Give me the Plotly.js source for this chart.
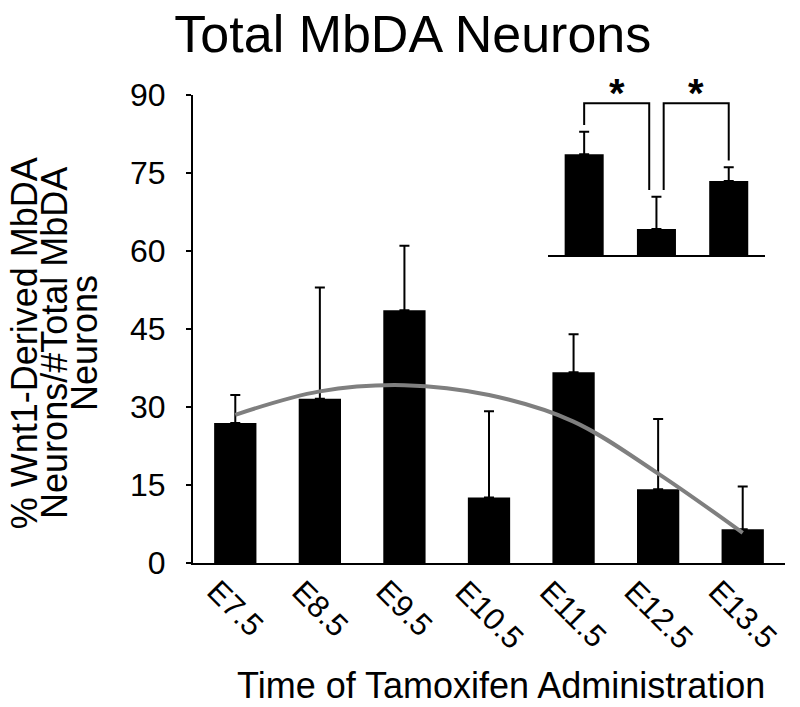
<!DOCTYPE html>
<html>
<head>
<meta charset="utf-8">
<script src="https://cdn.plot.ly/plotly-3.0.1.min.js"></script>
<style>html,body{margin:0;padding:0;background:#fff;}#chart{width:800px;height:707px;}</style>
</head>
<body>
<div id="chart"></div>
<script>
// Main chart data
const categories = ['E7.5', 'E8.5', 'E9.5', 'E10.5', 'E11.5', 'E12.5', 'E13.5'];
const percentValues = [26.9, 31.6, 48.6, 12.6, 36.7, 14.2, 6.5];
const percentErrors = [5.4, 21.4, 12.4, 16.6, 7.3, 13.5, 8.2];
const trendValues = [28.5, 33.0, 34.2, 32.3, 27.2, 17.2, 5.8];
const yTicks = [0, 15, 30, 45, 60, 75, 90];

// Inset data
const insetCategories = ['A', 'B', 'C'];
const insetValues = [44.1, 11.4, 32.4];
const insetErrors = [9.8, 14.1, 6.0];
const sigPairs = [[0, 1], [1, 2]];

const FONT = 'Liberation Sans, Arial, sans-serif';
const zeros = percentValues.map(() => 0);

const traces = [
  {
    type: 'bar', x: categories, y: percentValues, width: 0.5,
    marker: {color: '#000000', line: {width: 0}},
    error_y: {type: 'data', symmetric: false, array: percentErrors, arrayminus: zeros,
              color: '#000000', thickness: 2, width: 5},
    hoverinfo: 'skip', showlegend: false
  },
  {
    type: 'scatter', mode: 'lines', x: categories, y: trendValues,
    line: {color: '#7f7f7f', width: 4, shape: 'spline', smoothing: 1},
    showlegend: false, hoverinfo: 'skip'
  },
  {
    type: 'bar', x: insetCategories, y: insetValues, xaxis: 'x2', yaxis: 'y2', width: 0.54,
    marker: {color: '#000000', line: {width: 0}},
    error_y: {type: 'data', symmetric: false, array: insetErrors, arrayminus: [0, 0, 0],
              color: '#000000', thickness: 2, width: 5},
    showlegend: false, hoverinfo: 'skip'
  }
];

// significance brackets built from inset data
const bracketTop = 66.4;
const gap = 3;
const legOffset = 0.1;
const shapes = [];
const annotations = [];
sigPairs.forEach(([a, b], i) => {
  const xa = i === 0 ? a : a + legOffset;
  const xb = i === 0 ? b - legOffset : b;
  const ya = insetValues[a] + insetErrors[a] + gap;
  const yb = insetValues[b] + insetErrors[b] + gap;
  shapes.push({
    type: 'path', xref: 'x2', yref: 'y2',
    path: `M ${xa},${ya} L ${xa},${bracketTop} L ${xb},${bracketTop} L ${xb},${yb}`,
    line: {color: '#000000', width: 2}
  });
  annotations.push({
    xref: 'x2', yref: 'y2', x: (xa + xb) / 2, y: bracketTop, yanchor: 'bottom',
    text: '<b>*</b>', showarrow: false, font: {family: FONT, size: 40, color: '#000'}, yshift: -14
  });
});

// x tick labels, centred under each category and rotated 45 degrees
categories.forEach((c) => {
  annotations.push({
    xref: 'x', yref: 'paper', x: c, y: 0, xanchor: 'center', yanchor: 'top', yshift: -8,
    text: c, textangle: 45, showarrow: false, font: {family: FONT, size: 31, color: '#000'}
  });
});

// x title
annotations.push({
  xref: 'paper', yref: 'paper', x: 0.521, y: -0.261, xanchor: 'center', yanchor: 'middle',
  text: 'Time of Tamoxifen Administration', showarrow: false,
  font: {family: FONT, size: 36, color: '#000'}
});

// y title lines
const yTitleLines = ['% Wnt1-Derived MbDA', 'Neurons/#Total MbDA', 'Neurons'];
const yTitleX = [-0.285, -0.235, -0.184];
yTitleLines.forEach((t, i) => {
  annotations.push({
    xref: 'paper', yref: 'paper', x: yTitleX[i], y: 0.47, xanchor: 'center', yanchor: 'middle',
    text: t, textangle: -90, showarrow: false, font: {family: FONT, size: 36, color: '#000'}
  });
});

const layout = {
  width: 800, height: 707,
  margin: {l: 193, r: 15, t: 95, b: 144},
  paper_bgcolor: '#ffffff', plot_bgcolor: '#ffffff',
  font: {family: FONT, color: '#000000'},
  title: {text: 'Total MbDA Neurons', font: {family: FONT, size: 52, color: '#000'},
          x: 0.516, xanchor: 'center', y: 0.952, yanchor: 'middle'},
  bargap: 0.5,
  xaxis: {
    type: 'category', range: [-0.5, 6.5], showline: true, linecolor: '#000', linewidth: 2,
    ticks: '', showticklabels: false,
    showgrid: false, zeroline: false, fixedrange: true
  },
  yaxis: {
    range: [0, 90], tickvals: yTicks, ticktext: yTicks.map(String),
    showline: true, linecolor: '#000', linewidth: 2, ticks: 'outside', ticklen: 5, tickwidth: 2,
    tickcolor: '#000', tickfont: {family: FONT, size: 32, color: '#000'}, ticklabelstandoff: 14,
    showgrid: false, zeroline: false, fixedrange: true
  },
  xaxis2: {
    type: 'category', domain: [0.5997, 0.966], anchor: 'y2', range: [-0.5, 2.5],
    showline: true, linecolor: '#000', linewidth: 2, ticks: '', showticklabels: false,
    showgrid: false, zeroline: false
  },
  yaxis2: {
    domain: [0.658, 1], anchor: 'x2', range: [0, 70], visible: false,
    showgrid: false, zeroline: false
  },
  shapes: shapes,
  annotations: annotations
};

Plotly.newPlot('chart', traces, layout, {staticPlot: true, displayModeBar: false});
</script>
</body>
</html>
